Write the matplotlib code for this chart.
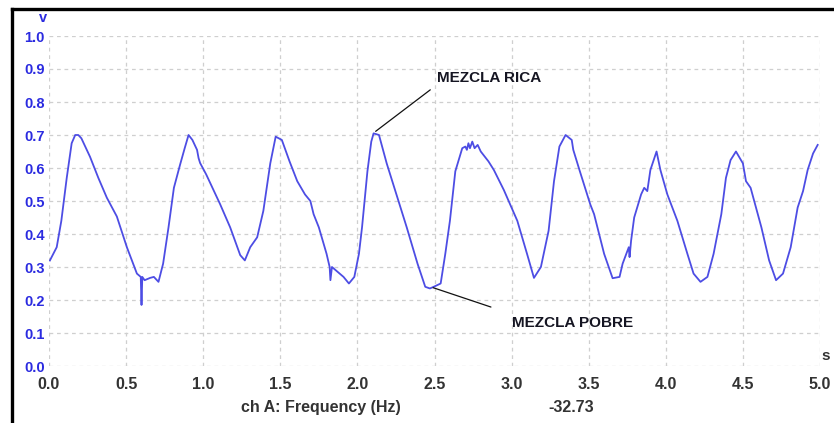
import matplotlib
matplotlib.use("Agg")
import matplotlib.pyplot as plt
from matplotlib.lines import Line2D

# ---- data ----
time_s = [0.006, 0.05, 0.08, 0.115, 0.147, 0.17, 0.19, 0.21, 0.266, 0.32, 0.375, 0.44, 0.505,
          0.57, 0.595, 0.60, 0.605, 0.62, 0.656, 0.68, 0.71, 0.74, 0.775, 0.81, 0.85, 0.88,
          0.905, 0.93, 0.96, 0.97, 0.98, 1.02, 1.11, 1.175, 1.24, 1.27, 1.305, 1.35, 1.39,
          1.435, 1.47, 1.51, 1.56, 1.61, 1.66, 1.695, 1.716, 1.75, 1.80, 1.82, 1.825, 1.835,
          1.87, 1.91, 1.945, 1.98, 2.01, 2.03, 2.065, 2.09, 2.105, 2.14, 2.19, 2.26, 2.32,
          2.39, 2.44, 2.47, 2.495, 2.54, 2.57, 2.60, 2.635, 2.68, 2.70, 2.71, 2.72, 2.73,
          2.745, 2.76, 2.78, 2.80, 2.85, 2.885, 2.95, 3.037, 3.10, 3.145, 3.19, 3.24, 3.275,
          3.31, 3.35, 3.39, 3.40, 3.44, 3.51, 3.535, 3.60, 3.655, 3.70, 3.72, 3.76, 3.765,
          3.775, 3.795, 3.84, 3.86, 3.88, 3.90, 3.94, 3.965, 4.01, 4.075, 4.14, 4.18, 4.225,
          4.27, 4.31, 4.36, 4.39, 4.42, 4.455, 4.48, 4.50, 4.52, 4.55, 4.62, 4.67, 4.715,
          4.76, 4.81, 4.855, 4.89, 4.92, 4.955, 4.985]
voltage_v = [0.32, 0.36, 0.44, 0.57, 0.675, 0.70, 0.70, 0.69, 0.634, 0.57, 0.51, 0.453, 0.36,
             0.28, 0.27, 0.185, 0.27, 0.26, 0.267, 0.27, 0.255, 0.31, 0.42, 0.54, 0.61, 0.66,
             0.70, 0.685, 0.655, 0.63, 0.615, 0.58, 0.49, 0.42, 0.336, 0.32, 0.36, 0.39, 0.47,
             0.614, 0.695, 0.685, 0.62, 0.56, 0.52, 0.50, 0.46, 0.42, 0.34, 0.30, 0.26, 0.30,
             0.286, 0.27, 0.25, 0.27, 0.34, 0.42, 0.59, 0.68, 0.705, 0.70, 0.614, 0.51, 0.42,
             0.31, 0.24, 0.235, 0.24, 0.25, 0.34, 0.44, 0.59, 0.66, 0.665, 0.655, 0.675, 0.66,
             0.68, 0.66, 0.67, 0.65, 0.62, 0.594, 0.533, 0.44, 0.34, 0.267, 0.30, 0.41, 0.56,
             0.665, 0.70, 0.685, 0.655, 0.594, 0.49, 0.46, 0.34, 0.266, 0.27, 0.31, 0.36, 0.33,
             0.38, 0.45, 0.52, 0.54, 0.53, 0.594, 0.65, 0.594, 0.52, 0.44, 0.34, 0.28, 0.255,
             0.27, 0.34, 0.46, 0.57, 0.624, 0.65, 0.63, 0.614, 0.56, 0.54, 0.42, 0.32, 0.26,
             0.28, 0.36, 0.48, 0.53, 0.594, 0.644, 0.67]

x_ticks = [0.0, 0.5, 1.0, 1.5, 2.0, 2.5, 3.0, 3.5, 4.0, 4.5, 5.0]
y_ticks = [0.0, 0.1, 0.2, 0.3, 0.4, 0.5, 0.6, 0.7, 0.8, 0.9, 1.0]

rich_label = "MEZCLA RICA"
rich_point = (2.104, 0.706)
rich_text = (2.487, 0.842)
poor_label = "MEZCLA POBRE"
poor_point = (2.474, 0.24)
poor_text = (2.883, 0.176)

x_label = "ch A: Frequency (Hz)"
readout = "-32.73"

# ---- figure ----
W, H = 834, 423
fig = plt.figure(figsize=(W / 100, H / 100), dpi=100)
ax = fig.add_axes([49 / W, 1 - 366 / H, (820 - 49) / W, (366 - 36) / H])

line_color = "#4d4de4"
ax.plot(time_s, voltage_v, color=line_color, lw=1.3, solid_joinstyle="round")

ax.set_xlim(0, 5)
ax.set_ylim(0, 1)
ax.set_xticks(x_ticks)
ax.set_yticks(y_ticks)
ax.set_xticklabels([f"{t:.1f}" for t in x_ticks])
ax.set_yticklabels([f"{t:.1f}" for t in y_ticks])
for s in ax.spines.values():
    s.set_visible(False)
ax.tick_params(axis="both", length=0)
ax.tick_params(axis="x", pad=8, labelsize=11.5, labelcolor="#333333")
ax.tick_params(axis="y", pad=3, labelsize=10.5, labelcolor="#2b2be0")
for lbl in ax.get_xticklabels() + ax.get_yticklabels():
    lbl.set_fontfamily("Liberation Sans")
    lbl.set_fontweight("bold")
ax.grid(True, color="#cfcfcf", linestyle=(0, (3, 3)), lw=0.9)
ax.set_axisbelow(True)

# annotations
ax.annotate("", xy=rich_point, xytext=rich_text,
            arrowprops=dict(arrowstyle="-", color="#111111", lw=0.9))
ax.text(rich_text[0] + 0.03, rich_text[1] + 0.03, rich_label, fontsize=11,
        fontfamily="Liberation Sans", fontweight="bold", color="#151522",
        ha="left", va="center")
ax.annotate("", xy=poor_point, xytext=poor_text,
            arrowprops=dict(arrowstyle="-", color="#111111", lw=0.9))
ax.text(poor_text[0] + 0.12, poor_text[1] - 0.045, poor_label, fontsize=11,
        fontfamily="Liberation Sans", fontweight="bold", color="#151522",
        ha="left", va="center")

# units and footer texts
fig.text(43 / W, 1 - 18 / H, "v", fontsize=10.5, fontfamily="Liberation Sans",
         fontweight="bold", color="#2b2be0", ha="center", va="center")
fig.text(826 / W, 1 - 356 / H, "s", fontsize=11, fontfamily="Liberation Sans",
         fontweight="bold", color="#333333", ha="center", va="center")
fig.text(321 / W, 1 - 407 / H, x_label, fontsize=11.5, fontfamily="Liberation Sans",
         fontweight="bold", color="#333333", ha="center", va="center")
fig.text(571 / W, 1 - 407 / H, readout, fontsize=11.5, fontfamily="Liberation Sans",
         fontweight="bold", color="#333333", ha="center", va="center")

# black frame on left and top
fig.add_artist(Line2D([12 / W, 12 / W], [0, 1 - 9 / H], color="black", lw=2.4,
                      transform=fig.transFigure, solid_capstyle="projecting"))
fig.add_artist(Line2D([12 / W, 1], [1 - 9 / H, 1 - 9 / H], color="black", lw=2.4,
                      transform=fig.transFigure, solid_capstyle="projecting"))

fig.savefig("out.png", dpi=100, facecolor="white")
